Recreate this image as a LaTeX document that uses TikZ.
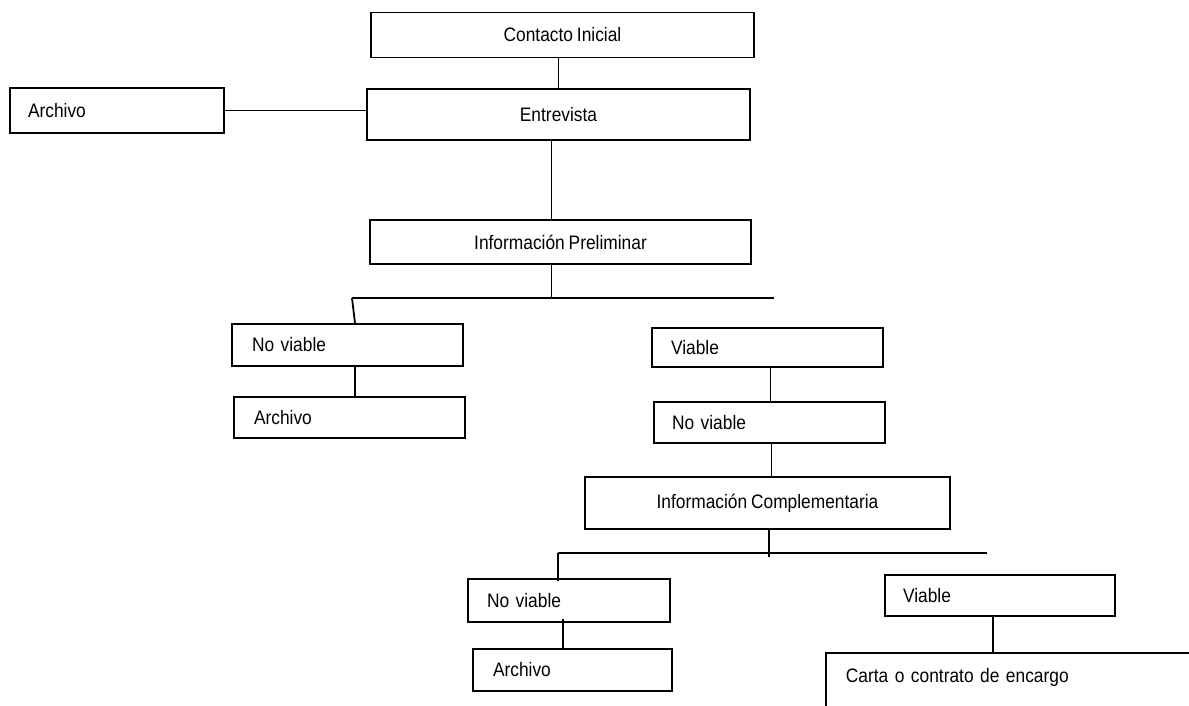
\documentclass[tikz,border=0pt]{standalone}
\usepackage{fontspec}
\setmainfont{Liberation Sans}[FakeStretch=0.89,WordSpace=0.8]
\begin{document}
\begin{tikzpicture}[x=1pt,y=-1pt,
  box/.style={draw, line width=1.8pt, inner ysep=0pt, font=\fontsize{19.5}{22}\selectfont},
  cbox/.style 2 args={box, inner xsep=0pt, minimum width=#1, minimum height=#2},
  lbox/.style={box, align=left},
  conn/.style={line width=1.8pt}]
\useasboundingbox (0,0) rectangle (1189,705);
\fill[white] (0,0) rectangle (1189,705);
\begin{scope}
\clip (0,0) rectangle (1189,705);
% boxes
\node[cbox={383}{45}] (ci) at (562.5,35) {Contacto Inicial};
\node[cbox={383}{51}] (en) at (558.5,114.5) {Entrevista};
\node[lbox, minimum height=45, inner xsep=18, text width=178] (a1) at (117,110.5) {Archivo};
\node[cbox={381}{44}] (ip) at (560.5,242) {Información Preliminar};
\node[lbox, minimum height=42, inner xsep=20, text width=191] (nv1) at (347.5,345) {No viable};
\node[lbox, minimum height=41, inner xsep=20, text width=191] (a2) at (349.5,417.5) {Archivo};
\node[lbox, minimum height=39, inner xsep=19, text width=193] (v1) at (767.5,347.5) {Viable};
\node[lbox, minimum height=41, inner xsep=18, text width=195] (nv2) at (769.5,422.5) {No viable};
\node[cbox={365}{52}] (ic) at (767.5,503) {Información Complementaria};
\node[lbox, minimum height=43, inner xsep=19, text width=164] (nv3) at (569,600.5) {No viable};
\node[lbox, minimum height=42, inner xsep=20, text width=159] (a3) at (572.5,670) {Archivo};
\node[lbox, minimum height=41, inner xsep=18, text width=194] (v2) at (1000,595.5) {Viable};
\node[lbox, draw=none, minimum height=48, inner xsep=19, text width=324, anchor=north west] (ca) at (826,653) {Carta o contrato de encargo};
\draw[conn] (ca.north west) rectangle ([yshift=-60pt]ca.south east);
% bars
\coordinate (b1l) at (352,298);
\coordinate (b1r) at (774,298);
\coordinate (b2l) at (558,553);
\coordinate (b2r) at (987,553);
% connectors
\draw[conn] (ci.south -| en.north) -- (en.north);
\draw[conn] (a1.east) -- (a1.east -| en.west);
\draw[conn] ([xshift=-7pt]en.south) -- ([xshift=-7pt]en.south |- ip.north);
\draw[conn] ([xshift=-9pt]ip.south) -- ([xshift=-9pt]ip.south |- b1l);
\draw[conn] (b1l) -- (b1r);
\draw[conn] (b1l) -- ([xshift=7.5pt]nv1.north);
\draw[conn] ([xshift=7.5pt]nv1.south) -- ([xshift=7.5pt]nv1.south |- a2.north);
\draw[conn] ([xshift=3pt]v1.south) -- ([xshift=3pt]v1.south |- nv2.north);
\draw[conn] ([xshift=2pt]nv2.south) -- ([xshift=2pt]nv2.south |- ic.north);
\draw[conn] ([xshift=1.5pt]ic.south) -- ([xshift=1.5pt,yshift=-4pt]ic.south |- b2l);
\draw[conn] (b2l) -- (b2r);
\draw[conn] (b2l) -- ([yshift=-3pt]b2l |- nv3.north);
\draw[conn] ([xshift=-6pt,yshift=4pt]nv3.south) -- ([xshift=-6pt]nv3.south |- a3.north);
\draw[conn] ([xshift=-7pt]v2.south) -- ([xshift=-7pt]v2.south |- ca.north);
\end{scope}
\end{tikzpicture}
\end{document}
